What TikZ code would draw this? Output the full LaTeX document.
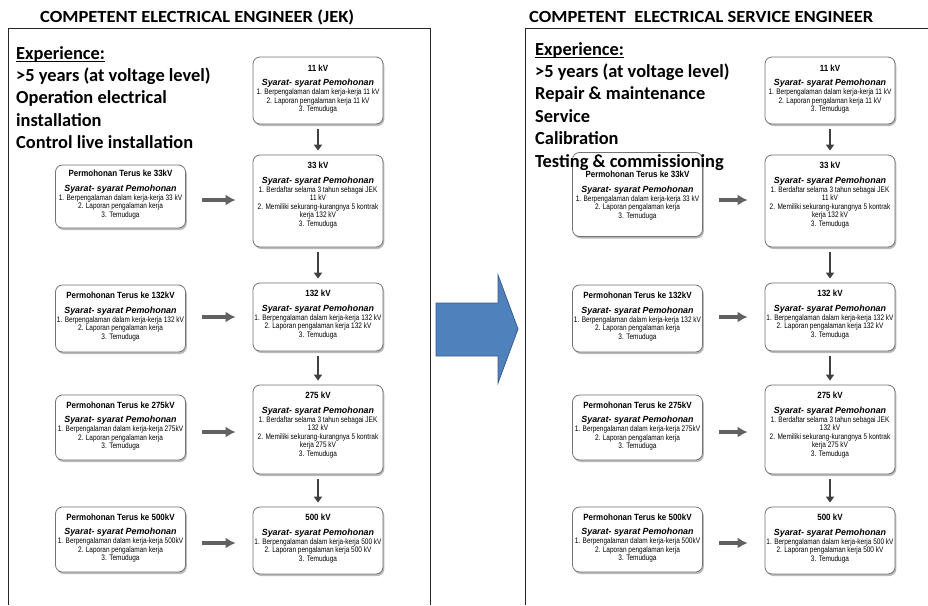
\documentclass[tikz,border=0pt]{standalone}
\usepackage{fontspec}
\setmainfont{Carlito}
\newfontfamily\narrow[FakeStretch=0.81]{Liberation Sans}
\newfontfamily\narrowt[FakeStretch=0.885]{Liberation Sans}
\newfontfamily\plainsans{Liberation Sans}
\newfontfamily\headfont[FakeStretch=1.09]{Carlito}
\usetikzlibrary{shadows,arrows.meta}
\definecolor{arrowblue}{HTML}{4F81BD}
\definecolor{arrowedge}{HTML}{385D8A}
\newcommand\syr{{\plainsans\fontsize{8.9}{8.6}\selectfont\bfseries\itshape Syarat- syarat Pemohonan}}
\newcommand\ttl[1]{{\narrowt\fontsize{9}{9}\selectfont\bfseries #1}}
\tikzset{
  kvbox/.style={draw=black!55, line width=0.8pt, rounded corners=7pt, fill=white,
    minimum width=130pt, inner sep=0pt,
    drop shadow={shadow xshift=1.3pt, shadow yshift=-2pt, fill=black!45, opacity=0.6}},
  boxtext/.style={anchor=north, align=center, inner sep=0pt, text=black,
    font=\narrow\fontsize{8}{8.6}\selectfont},
  darr/.style={draw=black!75, line width=2pt, -{Triangle[length=6pt,width=8pt]},
    shorten <=5pt, shorten >=4pt},
  harr/.style={draw=black!62, line width=3.8pt, -{Latex[length=10pt,width=11pt]},
    shorten <=16pt, shorten >=17pt},
  head/.style={anchor=base west, inner sep=0pt, font=\headfont\bfseries\fontsize{17}{20}\selectfont},
  exper/.style={anchor=base west, inner sep=0pt, font=\bfseries\fontsize{18.4}{22.5}\selectfont},
  panel/.style={draw=black!85, line width=1pt}
}
% #1 prefix, #2 x shift of left column, #3 x shift of right column,
% #4 centre y of first left box, #5 its height, #6 its text offset
\newcommand\flowchart[6]{%
  \node[kvbox, minimum height=67pt] (#1r11) at ({318+#3},90.5) {};
  \node[boxtext] (#1t11) at ([yshift=-8pt]#1r11.north) {\ttl{11 kV}\\[6pt]\syr\\1. Berpengalaman dalam kerja-kerja 11 kV\\2. Laporan pengalaman kerja 11 kV\\3. Temuduga};
  \node[kvbox, minimum height=92pt] (#1r33) at ({318+#3},201) {};
  \node[boxtext] (#1t33) at ([yshift=-7.5pt]#1r33.north) {\ttl{33 kV}\\[6pt]\syr\\1. Berdaftar selama 3 tahun sebagai JEK\\11 kV\\2. Memiliki sekurang-kurangnya 5 kontrak\\kerja 132 kV\\3. Temuduga};
  \node[kvbox, minimum height=68pt] (#1r132) at ({318+#3},317) {};
  \node[boxtext] (#1t132) at ([yshift=-7.5pt]#1r132.north) {\ttl{132 kV}\\[6pt]\syr\\1. Berpengalaman dalam kerja-kerja 132 kV\\2. Laporan pengalaman kerja 132 kV\\3. Temuduga};
  \node[kvbox, minimum height=89pt] (#1r275) at ({318+#3},429.5) {};
  \node[boxtext] (#1t275) at ([yshift=-7.5pt]#1r275.north) {\ttl{275 kV}\\[6pt]\syr\\1. Berdaftar selama 3 tahun sebagai JEK\\132 kV\\2. Memiliki sekurang-kurangnya 5 kontrak\\kerja 275 kV\\3. Temuduga};
  \node[kvbox, minimum height=67pt] (#1r500) at ({318+#3},540.5) {};
  \node[boxtext] (#1t500) at ([yshift=-7.5pt]#1r500.north) {\ttl{500 kV}\\[6pt]\syr\\1. Berpengalaman dalam kerja-kerja 500 kV\\2. Laporan pengalaman kerja 500 kV\\3. Temuduga};
  \node[kvbox, minimum height=#5] (#1l33) at ({120.5+#2},#4) {};
  \node[boxtext] (#1u33) at ([yshift=-#6]#1l33.north) {\ttl{Permohonan Terus ke 33kV}\\[6pt]\syr\\1. Berpengalaman dalam kerja-kerja 33 kV\\2. Laporan pengalaman kerja\\3. Temuduga};
  \node[kvbox, minimum height=67pt] (#1l132) at ({120.5+#2},318.5) {};
  \node[boxtext] (#1u132) at ([yshift=-7.5pt]#1l132.north) {\ttl{Permohonan Terus ke 132kV}\\[6pt]\syr\\1. Berpengalaman dalam kerja-kerja 132 kV\\2. Laporan pengalaman kerja\\3. Temuduga};
  \node[kvbox, minimum height=65pt] (#1l275) at ({120.5+#2},427.5) {};
  \node[boxtext] (#1u275) at ([yshift=-7pt]#1l275.north) {\ttl{Permohonan Terus ke 275kV}\\[6pt]\syr\\1. Berpengalaman dalam kerja-kerja 275kV\\2. Laporan pengalaman kerja\\3. Temuduga};
  \node[kvbox, minimum height=65pt] (#1l500) at ({120.5+#2},539.5) {};
  \node[boxtext] (#1u500) at ([yshift=-7pt]#1l500.north) {\ttl{Permohonan Terus ke 500kV}\\[6pt]\syr\\1. Berpengalaman dalam kerja-kerja 500kV\\2. Laporan pengalaman kerja\\3. Temuduga};
  \draw[darr] (#1r11) -- (#1r33);
  \draw[darr] (#1r33) -- (#1r132);
  \draw[darr] (#1r132) -- (#1r275);
  \draw[darr] (#1r275) -- (#1r500);
  \coordinate (#1h33) at ([yshift=1pt]#1r33.west);
  \coordinate (#1h132) at (#1r132.west);
  \coordinate (#1h275) at ([yshift=-2.5pt]#1r275.west);
  \coordinate (#1h500) at ([yshift=-2.5pt]#1r500.west);
  \draw[harr] (#1l33.east |- #1h33) -- (#1h33);
  \draw[harr] (#1l132.east |- #1h132) -- (#1h132);
  \draw[harr] (#1l275.east |- #1h275) -- (#1h275);
  \draw[harr] (#1l500.east |- #1h500) -- (#1h500);
}
\begin{document}
\begin{tikzpicture}[x=1pt,y=-1pt]
\useasboundingbox[fill=white] (0,0) rectangle (928,605);
% panels
\draw[panel] (8,605) -- (8,28) -- (430,28) -- (430,605);
\draw[panel] (525,605) -- (525,28) -- (928,28);
% headings
\node[head] (hL) at (40,22.5) {COMPETENT ELECTRICAL ENGINEER (JEK)};
\node[head] (hR) at (529,22.5) {COMPETENT\ \ ELECTRICAL SERVICE ENGINEER};
% flowcharts
\flowchart{a}{0}{0}{196.5}{63pt}{5.5pt}
\flowchart{b}{517}{512}{194.5}{84pt}{19pt}
% big arrow
\draw[fill=arrowblue, draw=arrowedge, line width=0.8pt, line join=miter]
  (436,303) -- (498,303) -- (498,275) -- (518,329) -- (498,383) -- (498,356) -- (436,356) -- cycle;
% left experience
\node[exper] (aE0) at (16,59) {Experience:};
\draw[line width=1.1pt] ([yshift=-2.3pt]aE0.base west) -- ([yshift=-2.3pt]aE0.base east);
\node[exper] (aE1) at (16,81) {>5 years (at voltage level)};
\node[exper] (aE2) at (16,103.5) {Operation electrical};
\node[exper] (aE3) at (16,126) {installation};
\node[exper] (aE4) at (16,148.5) {Control live installation};
% right experience
\node[exper] (bE0) at (535,55) {Experience:};
\draw[line width=1.1pt] ([yshift=-2.3pt]bE0.base west) -- ([yshift=-2.3pt]bE0.base east);
\node[exper] (bE1) at (535,77) {>5 years (at voltage level)};
\node[exper] (bE2) at (535,99.5) {Repair \& maintenance};
\node[exper] (bE3) at (535,122) {Service};
\node[exper] (bE4) at (535,144.5) {Calibration};
\node[exper] (bE5) at (535,167) {Testing \& commissioning};
\end{tikzpicture}
\end{document}
